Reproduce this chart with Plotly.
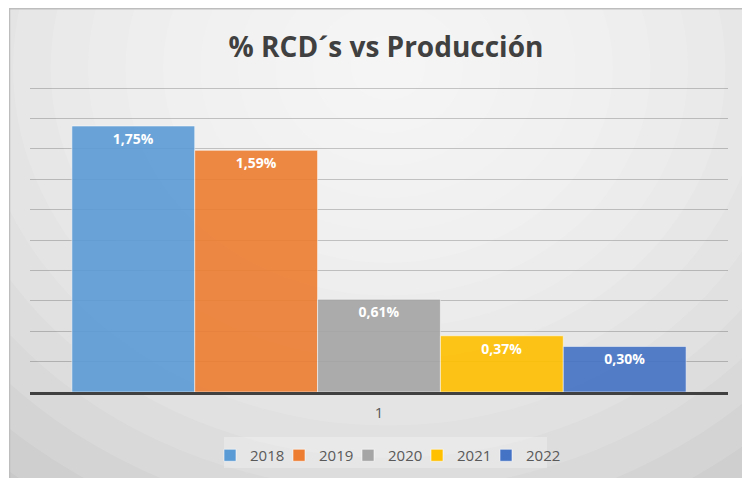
import plotly.graph_objects as go

# data
years = ["2018", "2019", "2020", "2021", "2022"]
values = [1.75, 1.59, 0.61, 0.37, 0.30]
colors = ["#5B9BD5", "#ED7D31", "#A5A5A5", "#FFC000", "#4472C4"]
category = ["1"]

# the page body adds an 8px margin, so the figure itself is 8px smaller
W, H = 742, 470
L, R, T, B = 22, 22, 72, 86
PW, PH = W - L - R, H - T - B
YMAX = 2.0526  # leaves room so the 2.0 gridline is drawn


def px(x):
    return (x - L) / PW


def py(y):
    return (H - B - y) / PH


fig = go.Figure()
for yr, v, c in zip(years, values, colors):
    fig.add_trace(go.Bar(
        x=category, y=[v], name=yr,
        marker=dict(color=c, opacity=0.9, line=dict(color="rgba(255,255,255,0.55)", width=1)),
        texttemplate="%{y:.2f}%", textposition="inside", insidetextanchor="end",
        textfont=dict(family="Open Sans", size=14, color="white", weight="bold"),
        hoverinfo="skip",
    ))
# blank entry so the last legend label isn't clipped
fig.add_trace(go.Scatter(x=[None], y=[None], name=" ", mode="markers",
                         marker=dict(size=1, color="rgba(0,0,0,0)"),
                         showlegend=True, hoverinfo="skip"))

# soft radial highlight under the title
shapes = []
N = 16
cx, cy = 380, 60
for k in range(N, 0, -1):
    rx, ry = 600 * k / N, 520 * k / N
    shapes.append(dict(type="circle", xref="paper", yref="paper",
                       x0=px(cx - rx), x1=px(cx + rx), y0=py(cy + ry), y1=py(cy - ry),
                       line=dict(width=0), fillcolor="rgba(255,255,255,0.12)", layer="below"))
# frame edges (top and left)
shapes.append(dict(type="line", xref="paper", yref="paper", x0=px(1), x1=px(W), y0=py(0.8), y1=py(0.8),
                   line=dict(color="#bdbdbd", width=1.5), layer="below"))
shapes.append(dict(type="line", xref="paper", yref="paper", x0=px(1.5), x1=px(1.5), y0=py(0), y1=py(H),
                   line=dict(color="#bdbdbd", width=1.5), layer="below"))
shapes.append(dict(type="rect", xref="paper", yref="paper", x0=px(0), x1=px(1), y0=py(0), y1=py(H),
                   line=dict(width=0), fillcolor="white", layer="below"))
# legend box
shapes.append(dict(type="rect", xref="paper", yref="paper", x0=px(216), x1=px(539), y0=py(460), y1=py(429),
                   line=dict(width=0), fillcolor="rgba(255,255,255,0.28)", layer="below"))

fig.update_layout(
    width=W, height=H,
    paper_bgcolor="#c9c9c9", plot_bgcolor="rgba(0,0,0,0)",
    separators=",.",
    margin=dict(l=L, r=R, t=T, b=B, autoexpand=False),
    title=dict(text="<b>% RCD´s vs Producción</b>", x=378 / W, xanchor="center", y=1 - 39 / H, yanchor="middle",
               font=dict(family="Open Sans", size=28, color="#404040")),
    barmode="group", bargap=0.12, bargroupgap=0,
    shapes=shapes,
    showlegend=True,
    legend=dict(orientation="h", xref="container", yref="container", x=202 / W, xanchor="left",
                y=1 - 431 / H, yanchor="top",
                bgcolor="rgba(0,0,0,0)", font=dict(family="Open Sans", size=15, color="#595959"),
                itemwidth=30, entrywidth=24, traceorder="normal"),
    font=dict(family="Open Sans"),
)
fig.update_xaxes(showgrid=False, showline=True, linecolor="#404040", linewidth=2.5,
                 tickfont=dict(size=15, color="#595959"), ticks="", ticklabelstandoff=5)
fig.update_yaxes(range=[0, YMAX], dtick=0.2, showgrid=True, gridcolor="rgba(0,0,0,0.2)", gridwidth=1,
                 showticklabels=False, zeroline=False)

fig.write_html("out.html")
